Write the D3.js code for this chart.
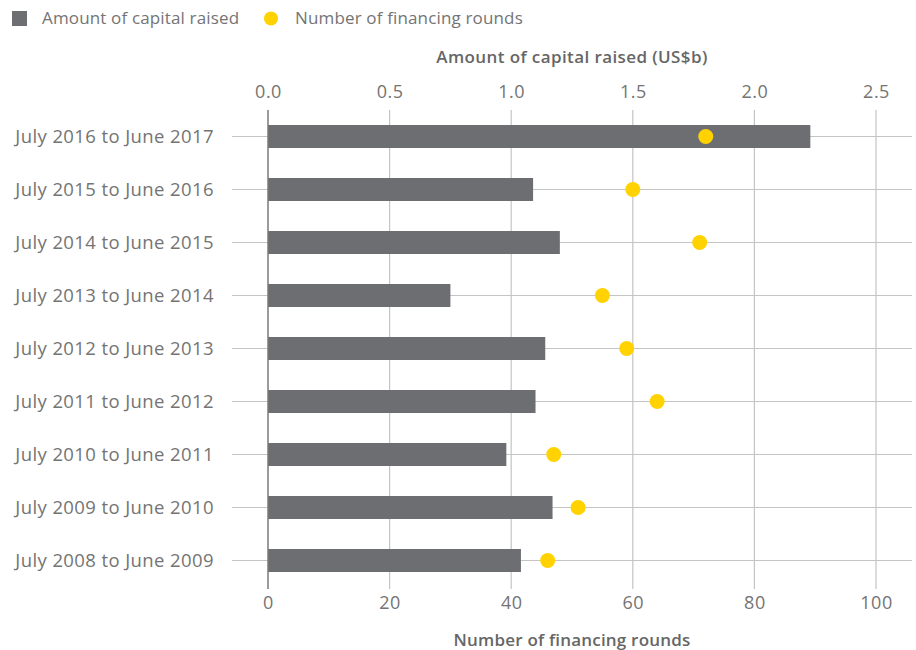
<!DOCTYPE html>
<html>
<head>
<meta charset="utf-8">
<script src="https://cdn.jsdelivr.net/npm/d3@7"></script>
<style>
  body { margin: 0; background: #fff; }
  text { font-family: "Open Sans", sans-serif; }
</style>
</head>
<body>
<div id="chart"></div>
<script>

let periods = ['July 2016 to June 2017', 'July 2015 to June 2016', 'July 2014 to June 2015',
    'July 2013 to June 2014', 'July 2012 to June 2013', 'July 2011 to June 2012',
    'July 2010 to June 2011', 'July 2009 to June 2010', 'July 2008 to June 2009']

let capital = [2.23, 1.09, 1.2, 0.75, 1.14, 1.1, 0.98, 1.17, 1.04]

let rounds = [72, 60, 71, 55, 59, 64, 47, 51, 46]

let capital_ticks = [0, 0.5, 1.0, 1.5, 2.0, 2.5]

let rounds_ticks = [0, 20, 40, 60, 80, 100]

let width = 916,
    height = 650

let svg = d3.select('#chart').append('svg')
    .attr('width', width)
    .attr('height', height)

let textColor = '#747474',
    barColor = '#6d6e71',
    dotColor = '#ffd200',
    gridColor = '#c4c4c4',
    font = '"Open Sans", sans-serif'

let xTop = d3.scaleLinear().domain([0, 2.5]).range([268, 876])

let xBottom = d3.scaleLinear().domain([0, 100]).range([268, 876])

let y = d3.scaleBand().domain(periods).range([110, 587]).padding(0)

// grid lines
svg.append('g')
    .selectAll('line')
    .data(capital_ticks.slice(1))
    .enter()
    .append('line')
    .attr('x1', d => xTop(d))
    .attr('x2', d => xTop(d))
    .attr('y1', 110)
    .attr('y2', 589)
    .attr('stroke', gridColor)
    .attr('stroke-width', 1.2)

svg.append('g')
    .selectAll('line')
    .data(periods)
    .enter()
    .append('line')
    .attr('x1', 232)
    .attr('x2', 912)
    .attr('y1', d => y(d) + y.bandwidth() / 2)
    .attr('y2', d => y(d) + y.bandwidth() / 2)
    .attr('stroke', gridColor)
    .attr('stroke-width', 1.2)

// bars
svg.append('g')
    .selectAll('rect')
    .data(periods)
    .enter()
    .append('rect')
    .attr('x', xTop(0))
    .attr('y', d => y(d) + y.bandwidth() / 2 - 11.5)
    .attr('width', (d, i) => xTop(capital[i]) - xTop(0))
    .attr('height', 23)
    .attr('fill', barColor)

// zero line
svg.append('line')
    .attr('x1', xTop(0))
    .attr('x2', xTop(0))
    .attr('y1', 110)
    .attr('y2', 589)
    .attr('stroke', '#7a7a7a')
    .attr('stroke-width', 1.5)

// dots
svg.append('g')
    .selectAll('circle')
    .data(periods)
    .enter()
    .append('circle')
    .attr('cx', (d, i) => xBottom(rounds[i]))
    .attr('cy', d => y(d) + y.bandwidth() / 2)
    .attr('r', 7.5)
    .attr('fill', dotColor)

// category labels
svg.append('g')
    .selectAll('text')
    .data(periods)
    .enter()
    .append('text')
    .attr('x', 214)
    .attr('y', d => y(d) + y.bandwidth() / 2)
    .attr('dy', '0.35em')
    .attr('text-anchor', 'end')
    .attr('font-size', 18.5)
    .attr('letter-spacing', 0.4)
    .attr('fill', textColor)
    .text(d => d)

// top axis
let topAxis = d3.axisTop(xTop)
    .tickValues(capital_ticks)
    .tickFormat(d3.format('.1f'))
    .tickSize(0)
    .tickPadding(0)

let gTop = svg.append('g')
    .attr('transform', 'translate(0,98)')
    .call(topAxis)

gTop.select('.domain').remove()
gTop.selectAll('text')
    .attr('font-size', 18)
    .attr('letter-spacing', 0.5)
    .attr('fill', textColor)
    .style('font-family', font)

// bottom axis
let bottomAxis = d3.axisBottom(xBottom)
    .tickValues(rounds_ticks)
    .tickSize(0)
    .tickPadding(0)

let gBottom = svg.append('g')
    .attr('transform', 'translate(0,596)')
    .call(bottomAxis)

gBottom.select('.domain').remove()
gBottom.selectAll('text')
    .attr('font-size', 18)
    .attr('letter-spacing', 0.5)
    .attr('fill', textColor)
    .style('font-family', font)

// axis titles
svg.append('text')
    .attr('x', 572)
    .attr('y', 63)
    .attr('text-anchor', 'middle')
    .attr('font-size', 17)
    .attr('letter-spacing', 0.4)
    .attr('font-weight', 600)
    .attr('fill', '#666')
    .text('Amount of capital raised (US$b)')

svg.append('text')
    .attr('x', 572)
    .attr('y', 646)
    .attr('text-anchor', 'middle')
    .attr('font-size', 17)
    .attr('letter-spacing', 0.2)
    .attr('font-weight', 600)
    .attr('fill', '#666')
    .text('Number of financing rounds')

// legend
let legend = svg.append('g')

legend.append('rect')
    .attr('x', 12)
    .attr('y', 11)
    .attr('width', 15)
    .attr('height', 15)
    .attr('fill', barColor)

legend.append('text')
    .attr('x', 42)
    .attr('y', 18.5)
    .attr('dy', '0.35em')
    .attr('font-size', 17)
    .attr('letter-spacing', 0.15)
    .attr('fill', textColor)
    .text('Amount of capital raised')

legend.append('circle')
    .attr('cx', 271)
    .attr('cy', 18.5)
    .attr('r', 7)
    .attr('fill', dotColor)

legend.append('text')
    .attr('x', 295)
    .attr('y', 18.5)
    .attr('dy', '0.35em')
    .attr('font-size', 17)
    .attr('letter-spacing', 0.15)
    .attr('fill', textColor)
    .text('Number of financing rounds')

</script>
</body>
</html>
